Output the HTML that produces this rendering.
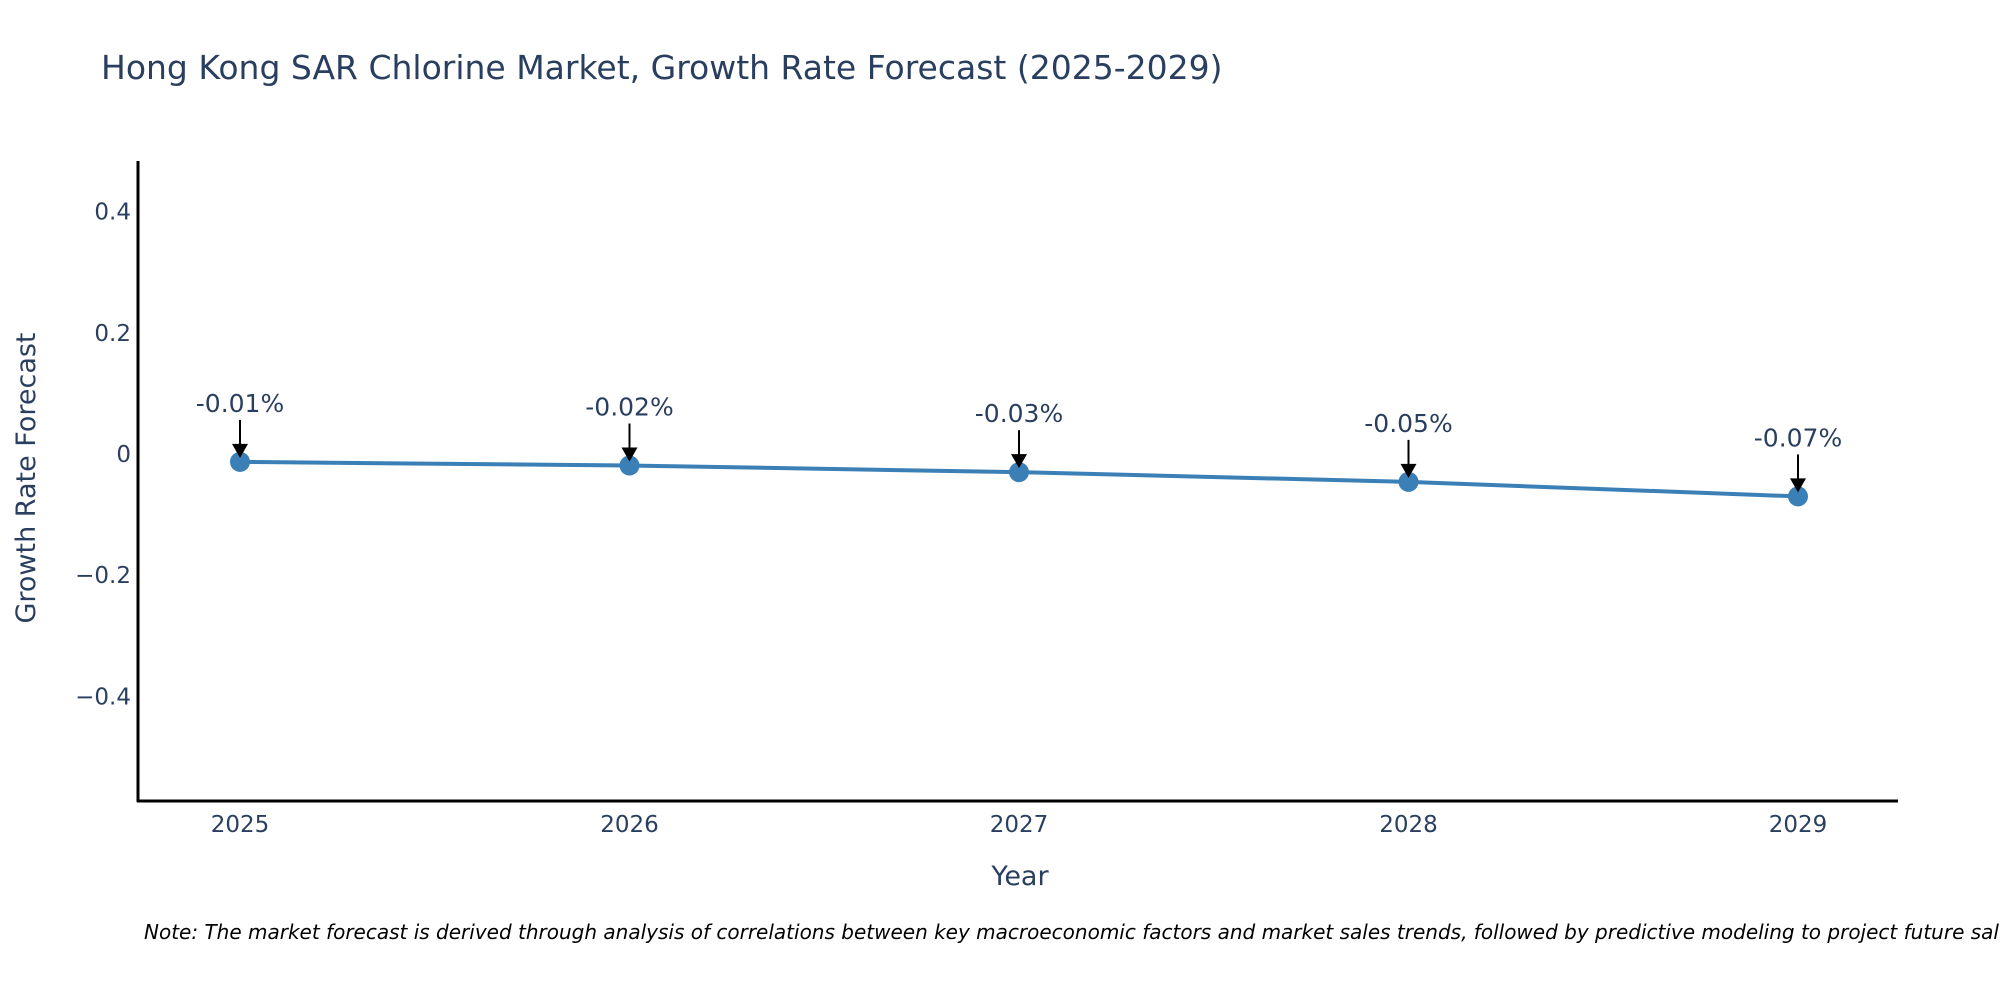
<!DOCTYPE html>
<html><head><meta charset="utf-8"><style>
body{margin:0;background:#fff;}
svg{display:block;font-family:"DejaVu Sans","Liberation Sans",sans-serif;}
</style></head><body>
<svg id="chart" width="2000" height="1000" viewBox="0 0 2000 1000">
<text x="101" y="79" font-size="33" fill="#2a3f5f">Hong Kong SAR Chlorine Market, Growth Rate Forecast (2025-2029)</text>
<g id="yticks"></g>
<g id="xticks"></g>
<line x1="138" y1="161" x2="138" y2="802" stroke="#000" stroke-width="3"/>
<line x1="137" y1="801" x2="1898" y2="801" stroke="#000" stroke-width="3"/>
<g id="series"></g>
<g id="annots"></g>
<text x="1020" y="885" font-size="27" fill="#2a3f5f" text-anchor="middle">Year</text>
<text transform="translate(35,478) rotate(-90)" font-size="27" fill="#2a3f5f" text-anchor="middle">Growth Rate Forecast</text>
<text x="144" y="939" font-size="20" font-style="italic" fill="#000">Note: The market forecast is derived through analysis of correlations between key macroeconomic factors and market sales trends, followed by predictive modeling to project future sales.</text>
</svg>
<script>
const years = [2025, 2026, 2027, 2028, 2029];
const values = [-0.013, -0.019, -0.03, -0.046, -0.07];
const labels = ["-0.01%", "-0.02%", "-0.03%", "-0.05%", "-0.07%"];
const yTicks = [0.4, 0.2, 0, -0.2, -0.4];
const yTickLabels = ["0.4", "0.2", "0", "\u22120.2", "\u22120.4"];

const NS = "http://www.w3.org/2000/svg";
const xs = y => 240 + (y - 2025) * (1798 - 240) / 4;
const ys = v => 454 - v * 121.2 / 0.2;
function mk(tag, attrs, parent){const e=document.createElementNS(NS,tag);for(const k in attrs)e.setAttribute(k,attrs[k]);parent.appendChild(e);return e;}

const yt = document.getElementById('yticks');
yTicks.forEach((v,i)=>{
  const t = mk('text',{x:131,y:ys(v)+8,'font-size':23,fill:'#2a3f5f','text-anchor':'end'},yt);
  t.textContent = yTickLabels[i];
  
  
});
const xt = document.getElementById('xticks');
years.forEach(y=>{
  const t = mk('text',{x:xs(y),y:832,'font-size':23,fill:'#2a3f5f','text-anchor':'middle'},xt);
  t.textContent = y;
  
  
});
const s = document.getElementById('series');
const line = mk('polyline',{points:years.map((y,i)=>xs(y)+','+ys(values[i])).join(' '),fill:'none',stroke:'#3a7fb5','stroke-width':4},s);


years.forEach((y,i)=>{
  const c = mk('circle',{cx:xs(y),cy:ys(values[i]),r:10,fill:'#3a7fb5'},s);
  
  
});
const a = document.getElementById('annots');
years.forEach((y,i)=>{
  const px = xs(y), py = ys(values[i]);
  const l = mk('line',{x1:px,y1:py-42,x2:px,y2:py-14,stroke:'#000','stroke-width':2},a);
  
  
  const h = mk('polygon',{points:`${px-8},${py-18} ${px+8},${py-18} ${px},${py-4}`,fill:'#000'},a);
  
  
  const t = mk('text',{x:px,y:py-50,'font-size':25,fill:'#2a3f5f','text-anchor':'middle'},a);
  t.textContent = labels[i];
  
  
});
</script>
</body></html>
